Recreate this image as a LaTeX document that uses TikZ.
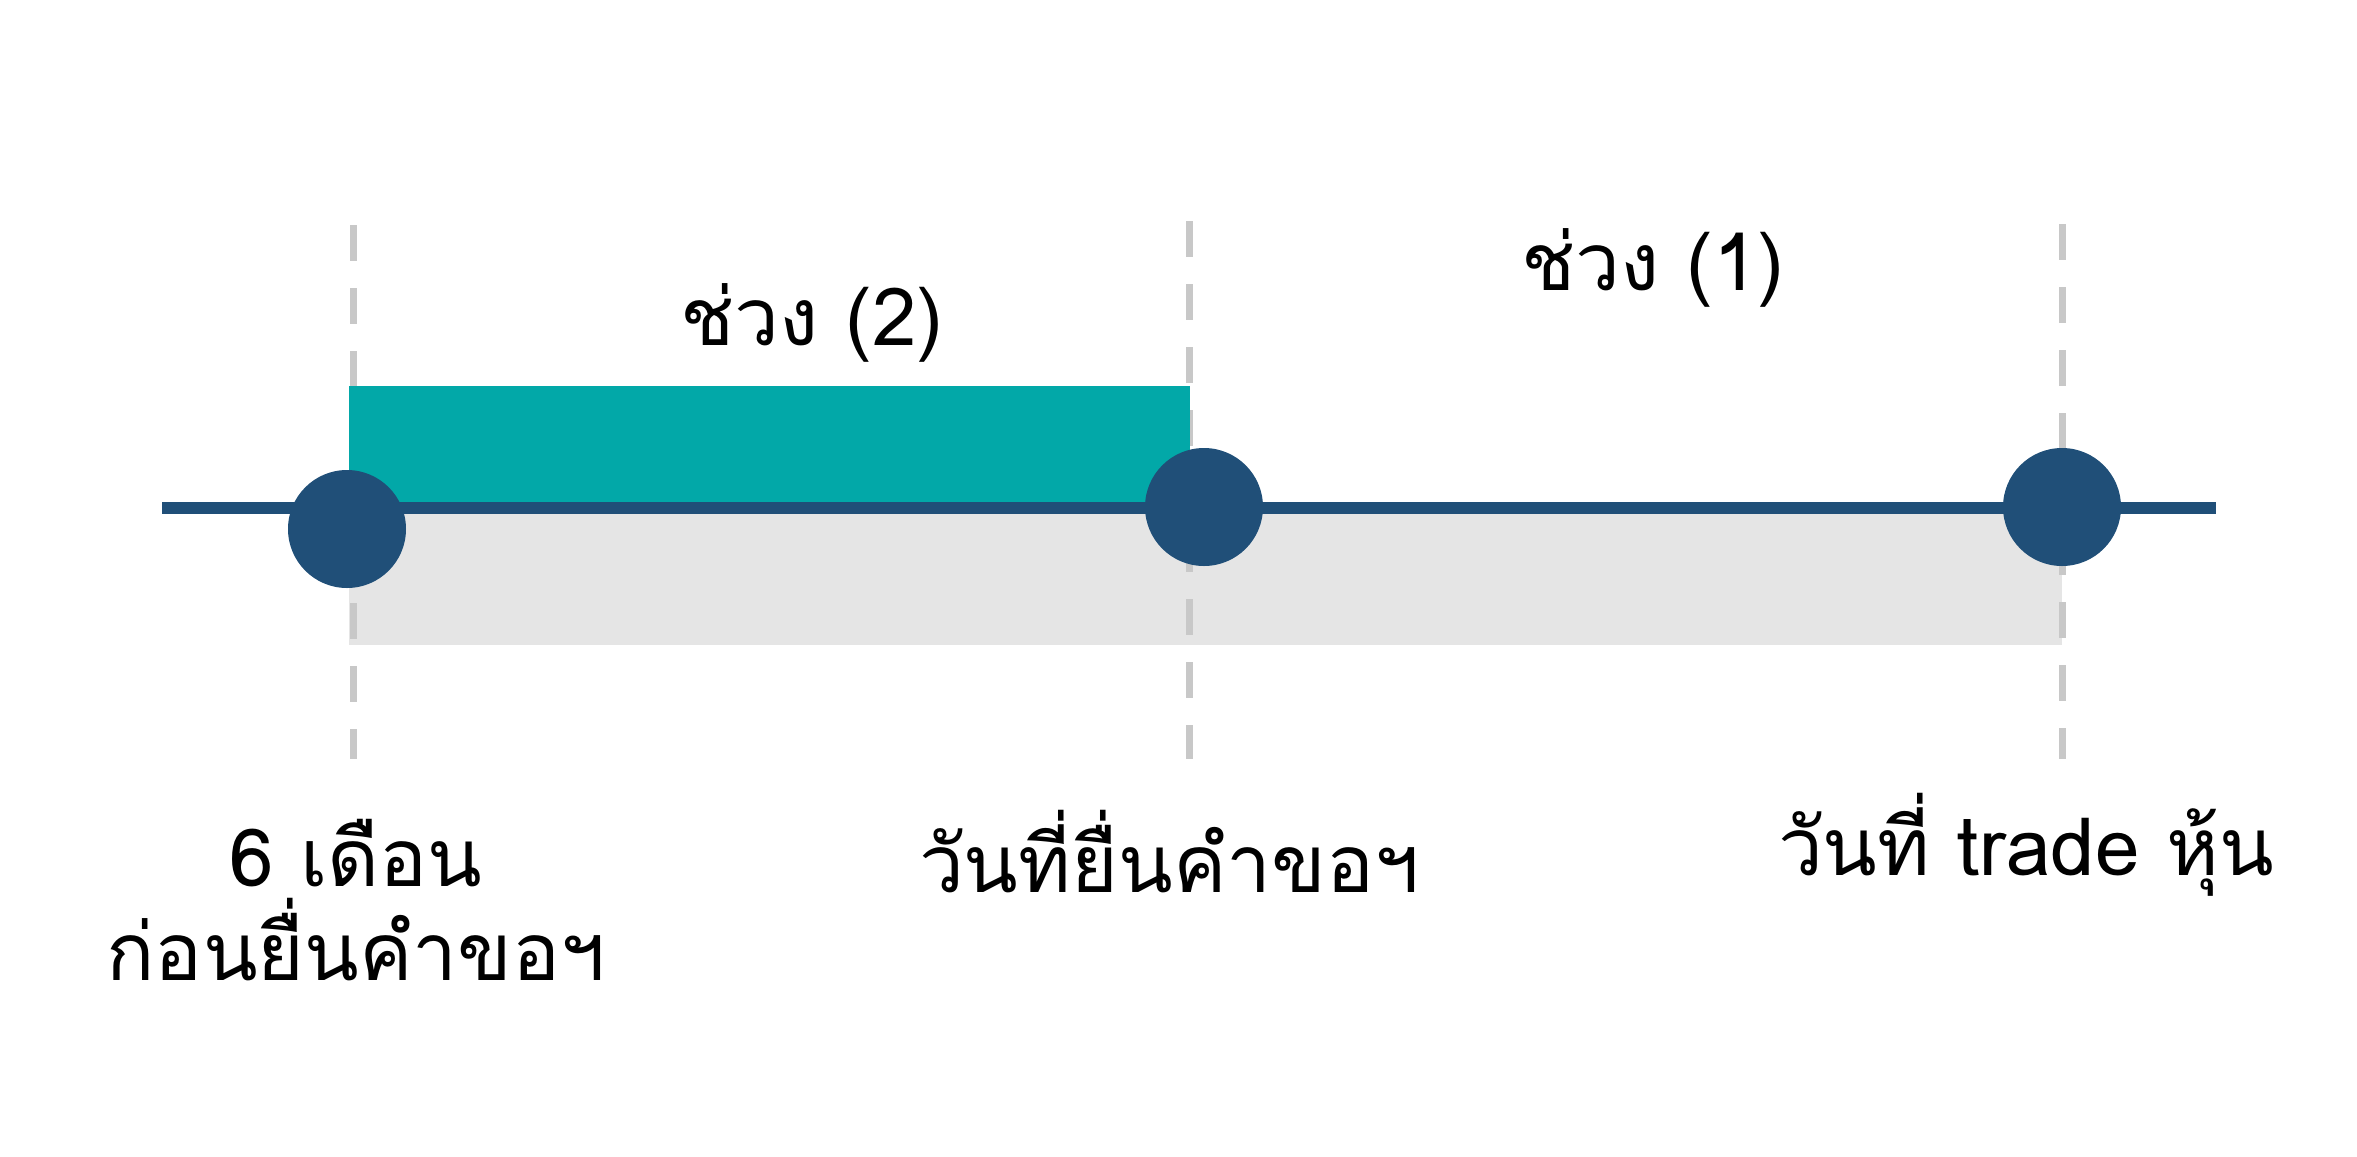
\documentclass[tikz,border=0pt]{standalone}
\usepackage{fontspec}
\newfontfamily\thaifont[Script=Thai]{Loma}
\definecolor{navy}{HTML}{204F78}
\definecolor{tealbar}{HTML}{02A8A8}
\definecolor{graybar}{HTML}{E5E5E5}
\definecolor{dashgray}{HTML}{C8C8C8}
\begin{document}
\begin{tikzpicture}[x=0.5pt,y=-0.5pt,
  guide/.style={draw=dashgray,line width=3.5pt,dash pattern=on 18pt off 13.5pt},
  axis/.style={draw=navy,line width=6pt},
  dot/.style={circle,fill=navy,minimum size=59pt,inner sep=0pt},
  lbl/.style={font=\thaifont\fontsize{40}{47}\selectfont,align=center,text=black,inner sep=0pt}]
\useasboundingbox (0,0) rectangle (2357,1157);
% background bars
\fill[graybar] (349,508) rectangle (2062,645);
% guides
\coordinate (g1t) at (353,225); \coordinate (g1b) at (353,759);
\coordinate (g2t) at (1189,221); \coordinate (g2b) at (1189,759);
\coordinate (g3t) at (2062,224); \coordinate (g3b) at (2062,759);
\draw[guide] (g1t) -- (g1b);
\draw[guide] (g2t) -- (g2b);
\draw[guide] (g3t) -- (g3b);
\fill[tealbar] (349,386) rectangle (1190,508);
% axis
\coordinate (axL) at (162,508);
\coordinate (axR) at (2216,508);
\draw[axis] (axL) -- (axR);
% dots
\node[dot] (d1) at (347,529) {};
\node[dot] (d2) at (1204,507) {};
\node[dot] (d3) at (2062,507) {};
% labels
\node[lbl] (p2) at (812,323) {ช่วง (2)};
\node[lbl] (p1) at (1653,268) {ช่วง (1)};
\node[lbl] (l1) at (356,900) {6 เดือน\\ก่อนยื่นคำขอฯ};
\node[lbl] (l2) at (1169,852) {วันที่ยื่นคำขอฯ};
\node[lbl] (l3) at (2026,845) {วันที่ trade หุ้น};
\end{tikzpicture}
\end{document}
